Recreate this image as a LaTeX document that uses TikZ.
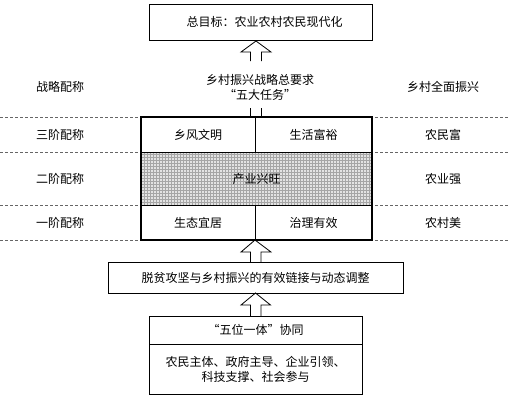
\documentclass[tikz,border=0pt]{standalone}
\usepackage{fontspec}
\setmainfont{Noto Sans CJK SC}
\usetikzlibrary{patterns,calc}
\begin{document}
\begin{tikzpicture}[x=1pt,y=-1pt,
  txt/.style={font=\fontsize{12}{15}\selectfont, align=center, inner sep=0pt},
  cell/.style={draw=black, line width=0.9pt, fill=white, minimum width=#1, minimum height=0pt, inner sep=0pt, outer sep=0pt, font=\fontsize{12}{15}\selectfont, align=center},
  dashline/.style={draw=gray!80!black, line width=0.7pt, dash pattern=on 3pt off 2pt},
  arrowline/.style={draw=black, line width=0.8pt, line join=miter},
]
\useasboundingbox (0,0) rectangle (510,400);
% dashed separators
\foreach \yy in {117,152,205,240} \draw[dashline] (0,\yy) -- (510,\yy);

% goal box
\node[cell=223pt, minimum height=36pt] (goal) at (260.5,22) {\hspace{8pt}总目标：农业农村农民现代化};

% middle text
\node[txt] (task) at (260,87) {乡村振兴战略总要求\\“五大任务”};

% left/right labels
\node[txt] (l0) at (60,87) {战略配称};
\node[txt] (r0) at (443,87) {乡村全面振兴};
\node[txt] (l3) at (60,135) {三阶配称};
\node[txt] (r3) at (443,135) {农民富};
\node[txt] (l2) at (60,179) {二阶配称};
\node[txt] (r2) at (443,179) {农业强};
\node[txt] (l1) at (60,223) {一阶配称};
\node[txt] (r1) at (443,223) {农村美};

% big box rows
\node[cell=114pt, minimum height=35pt] (r3a) at (198,134.5) {乡风文明};
\node[cell=117pt, minimum height=35pt] (r3b) at (313.5,134.5) {生活富裕};
\node[cell=231pt, minimum height=53pt, fill=gray!22] (r2c) at (256.5,178.5) {};
\fill[pattern=grid, pattern color=gray!70] (r2c.north west) rectangle (r2c.south east);
\node[txt] (r2t) at (256.5,179) {产业兴旺};
\node[cell=114pt, minimum height=35pt] (r1a) at (198,222.5) {生态宜居};
\node[cell=117pt, minimum height=35pt] (r1b) at (313.5,222.5) {治理有效};
\draw[line width=1.3pt] (r3a.north west) rectangle (r1b.south east);
\draw[line width=0.9pt] (r2c.north west) -- (r2c.north east) (r2c.south west) -- (r2c.south east);

% link box
\node[cell=295pt, minimum height=31pt] (link) at (255.5,277.5) {脱贫攻坚与乡村振兴的有效链接与动态调整};

% synergy box
\node[cell=213pt, minimum height=28pt] (syn) at (255.5,330) {“五位一体”协同};
\node[cell=213pt, minimum height=50pt] (synb) at (255.5,369) {农民主体、政府主导、企业引领、\\科技支撑、社会参与};

% hollow arrow: task -> goal
\coordinate (a1) at (goal.south -| 256,0);
\draw[arrowline] ($(a1)+(-5.5,21)$) -- ++(0,-9) -- ++(-9.5,0) -- (a1 |- 0,41) -- ($(a1)+(15,12)$) -- ++(-9.5,0) -- ++(0,9);
\draw[arrowline] ($(r3a.north east)+(-4.5,0)$) -- ++(0,-9);
\draw[arrowline] ($(r3a.north east)+(6,0)$) -- ++(0,-9);

% hollow arrow: link -> big box
\draw[arrowline] ($(link.north)+(-5,0)$) -- ++(0,-10) -- ++(-9.5,0) -- (r1a.south east) -- ($(link.north)+(15.5,-10)$) -- ++(-10,0) -- ++(0,10);

% hollow arrow: synergy -> link
\draw[arrowline] ($(syn.north)+(-5,0)$) -- ++(0,-11) -- ++(-9.5,0) -- (link.south) -- ($(syn.north)+(15,-11)$) -- ++(-9.5,0) -- ++(0,11);
\end{tikzpicture}
\end{document}
